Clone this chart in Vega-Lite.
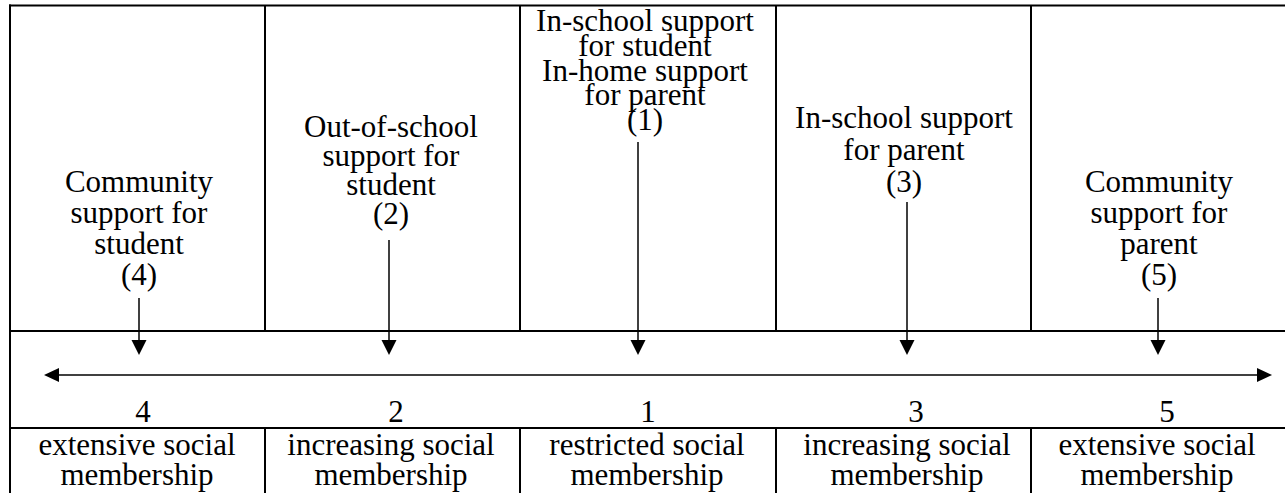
{
  "$schema": "https://vega.github.io/schema/vega-lite/v6.json",
  "width": 1285,
  "height": 493,
  "padding": 0,
  "autosize": {"type": "none"},
  "background": "white",
  "config": {"view": {"stroke": null}},
  "datasets": {
    "box": [
      {"x": 9, "x2": 1285, "y": 5.5, "y2": 5.5},
      {"x": 10, "x2": 10, "y": 4.5, "y2": 493},
      {"x": 265, "x2": 265, "y": 5, "y2": 331},
      {"x": 520, "x2": 520, "y": 5, "y2": 331},
      {"x": 776, "x2": 776, "y": 5, "y2": 331},
      {"x": 1031, "x2": 1031, "y": 5, "y2": 331},
      {"x": 10, "x2": 1285, "y": 331, "y2": 331},
      {"x": 10, "x2": 1285, "y": 428, "y2": 428},
      {"x": 265, "x2": 265, "y": 428, "y2": 493},
      {"x": 520, "x2": 520, "y": 428, "y2": 493},
      {"x": 776, "x2": 776, "y": 428, "y2": 493},
      {"x": 1031, "x2": 1031, "y": 428, "y2": 493}
    ],
    "shafts": [
      {"x": 139, "x2": 139, "y": 298, "y2": 345},
      {"x": 389, "x2": 389, "y": 240, "y2": 345},
      {"x": 638, "x2": 638, "y": 142, "y2": 345},
      {"x": 907, "x2": 907, "y": 202, "y2": 345},
      {"x": 1158, "x2": 1158, "y": 298, "y2": 345},
      {"x": 55, "x2": 1262, "y": 375, "y2": 375}
    ],
    "heads": [
      {"x": 139, "y": 347.5, "dir": "down"},
      {"x": 389, "y": 347.5, "dir": "down"},
      {"x": 638, "y": 347.5, "dir": "down"},
      {"x": 907, "y": 347.5, "dir": "down"},
      {"x": 1158, "y": 347.5, "dir": "down"},
      {"x": 51.5, "y": 375, "dir": "left"},
      {"x": 1264.5, "y": 375, "dir": "right"}
    ],
    "top": [
      {"x": 139, "y": 192, "grp": "a", "text": "Community\nsupport for\nstudent\n(4)"},
      {"x": 1159, "y": 192, "grp": "a", "text": "Community\nsupport for\nparent\n(5)"},
      {"x": 391, "y": 137, "grp": "b", "text": "Out-of-school\nsupport for\nstudent\n(2)"},
      {"x": 645, "y": 31, "grp": "c", "text": "In-school support\nfor student\nIn-home support\nfor parent\n(1)"},
      {"x": 904, "y": 128, "grp": "d", "text": "In-school support\nfor parent\n(3)"}
    ],
    "nums": [
      {"x": 143, "y": 422, "text": "4"},
      {"x": 396, "y": 422, "text": "2"},
      {"x": 648, "y": 422, "text": "1"},
      {"x": 916, "y": 422, "text": "3"},
      {"x": 1167, "y": 422, "text": "5"}
    ],
    "cells": [
      {"x": 137, "y": 455, "text": "extensive social\nmembership"},
      {"x": 391, "y": 455, "text": "increasing social\nmembership"},
      {"x": 647, "y": 455, "text": "restricted social\nmembership"},
      {"x": 907, "y": 455, "text": "increasing social\nmembership"},
      {"x": 1157, "y": 455, "text": "extensive social\nmembership"}
    ]
  },
  "layer": [
    {
      "data": {"name": "box"},
      "mark": {"type": "rule", "color": "black", "strokeWidth": 2},
      "encoding": {
        "x": {"field": "x", "type": "quantitative", "scale": {"domain": [0, 1285], "nice": false, "zero": false}, "axis": null},
        "x2": {"field": "x2"},
        "y": {"field": "y", "type": "quantitative", "scale": {"domain": [0, 493], "nice": false, "zero": false, "reverse": true}, "axis": null},
        "y2": {"field": "y2"}
      }
    },
    {
      "data": {"name": "shafts"},
      "mark": {"type": "rule", "color": "black", "strokeWidth": 1.5},
      "encoding": {
        "x": {"field": "x", "type": "quantitative", "axis": null},
        "x2": {"field": "x2"},
        "y": {"field": "y", "type": "quantitative", "axis": null},
        "y2": {"field": "y2"}
      }
    },
    {
      "data": {"name": "heads"},
      "mark": {"type": "point", "filled": true, "color": "black", "opacity": 1, "size": 225, "strokeWidth": 0},
      "encoding": {
        "x": {"field": "x", "type": "quantitative", "axis": null},
        "y": {"field": "y", "type": "quantitative", "axis": null},
        "shape": {
          "field": "dir",
          "type": "nominal",
          "legend": null,
          "scale": {
            "domain": ["down", "left", "right"],
            "range": ["M-1,-1L1,-1L0,1Z", "M1,-0.93L1,0.93L-1,0Z", "M-1,-0.93L-1,0.93L1,0Z"]
          }
        }
      }
    },
    {
      "data": {"name": "top"},
      "transform": [{"filter": "datum.grp == 'a'"}],
      "mark": {"type": "text", "font": "Liberation Serif", "fontSize": 31, "lineHeight": 31, "lineBreak": "\n", "color": "black", "align": "center", "baseline": "alphabetic"},
      "encoding": {
        "x": {"field": "x", "type": "quantitative", "axis": null},
        "y": {"field": "y", "type": "quantitative", "axis": null},
        "text": {"field": "text", "type": "nominal"}
      }
    },
    {
      "data": {"name": "top"},
      "transform": [{"filter": "datum.grp == 'b'"}],
      "mark": {"type": "text", "font": "Liberation Serif", "fontSize": 31, "lineHeight": 29, "lineBreak": "\n", "color": "black", "align": "center", "baseline": "alphabetic"},
      "encoding": {
        "x": {"field": "x", "type": "quantitative", "axis": null},
        "y": {"field": "y", "type": "quantitative", "axis": null},
        "text": {"field": "text", "type": "nominal"}
      }
    },
    {
      "data": {"name": "top"},
      "transform": [{"filter": "datum.grp == 'c'"}],
      "mark": {"type": "text", "font": "Liberation Serif", "fontSize": 31, "lineHeight": 24.75, "lineBreak": "\n", "color": "black", "align": "center", "baseline": "alphabetic"},
      "encoding": {
        "x": {"field": "x", "type": "quantitative", "axis": null},
        "y": {"field": "y", "type": "quantitative", "axis": null},
        "text": {"field": "text", "type": "nominal"}
      }
    },
    {
      "data": {"name": "top"},
      "transform": [{"filter": "datum.grp == 'd'"}],
      "mark": {"type": "text", "font": "Liberation Serif", "fontSize": 31, "lineHeight": 32, "lineBreak": "\n", "color": "black", "align": "center", "baseline": "alphabetic"},
      "encoding": {
        "x": {"field": "x", "type": "quantitative", "axis": null},
        "y": {"field": "y", "type": "quantitative", "axis": null},
        "text": {"field": "text", "type": "nominal"}
      }
    },
    {
      "data": {"name": "nums"},
      "mark": {"type": "text", "font": "Liberation Serif", "fontSize": 31, "color": "black", "align": "center", "baseline": "alphabetic"},
      "encoding": {
        "x": {"field": "x", "type": "quantitative", "axis": null},
        "y": {"field": "y", "type": "quantitative", "axis": null},
        "text": {"field": "text", "type": "nominal"}
      }
    },
    {
      "data": {"name": "cells"},
      "mark": {"type": "text", "font": "Liberation Serif", "fontSize": 31, "lineHeight": 30, "lineBreak": "\n", "color": "black", "align": "center", "baseline": "alphabetic"},
      "encoding": {
        "x": {"field": "x", "type": "quantitative", "axis": null},
        "y": {"field": "y", "type": "quantitative", "axis": null},
        "text": {"field": "text", "type": "nominal"}
      }
    }
  ]
}
